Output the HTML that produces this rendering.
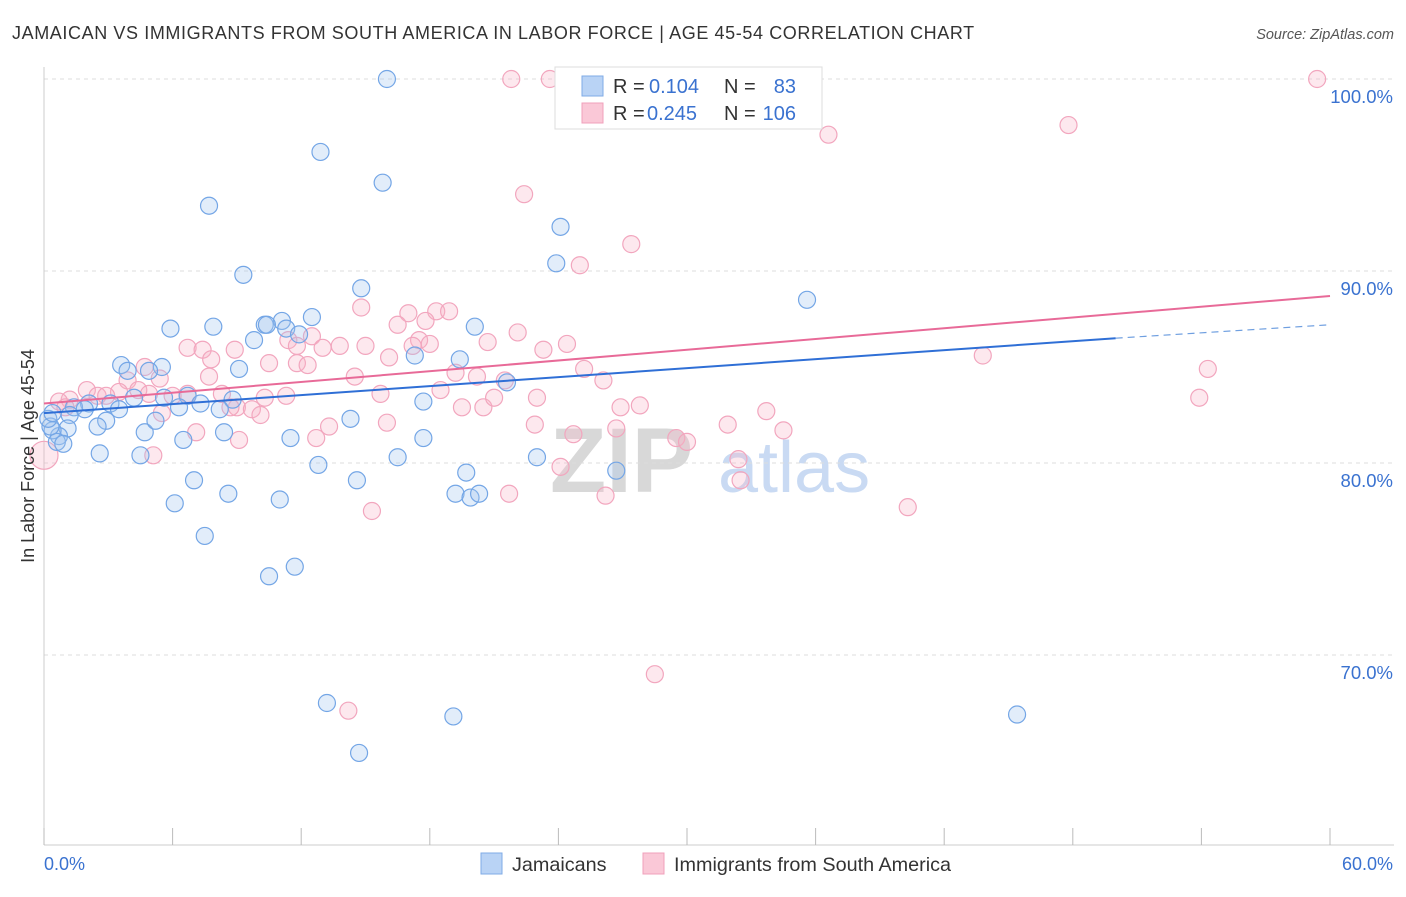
<!DOCTYPE html>
<html><head><meta charset="utf-8"><style>
body{margin:0;background:#fff;font-family:"Liberation Sans",sans-serif;}
svg text{font-family:"Liberation Sans",sans-serif;}
</style></head><body>
<svg id="chart" width="1406" height="892" viewBox="0 0 1406 892" xmlns="http://www.w3.org/2000/svg">
<text x="12" y="39" font-size="18" letter-spacing="0.6" fill="#333">JAMAICAN VS IMMIGRANTS FROM SOUTH AMERICA IN LABOR FORCE | AGE 45-54 CORRELATION CHART</text>
<text x="1394" y="39" font-size="14.5" fill="#555" font-style="italic" text-anchor="end">Source: ZipAtlas.com</text>
<g>
<text x="550" y="492" font-size="92" fill="#d8d8d8" font-family="Liberation Serif" font-weight="bold">ZIP</text>
<text x="718" y="492" font-size="72" fill="#c9daf3">atlas</text>
</g>
<g id="grid"></g>
<g id="axes"></g>
<g id="marks"></g>
<g id="trends"></g>
<g>
<rect x="555" y="67" width="267" height="62" fill="#fff" stroke="#ddd"/>
<rect x="582" y="76" width="21" height="20" fill="#b9d3f5" stroke="#7fabe6"/>
<rect x="582" y="103" width="21" height="20" fill="#fac8d7" stroke="#f0a0bb"/>
<text x="613" y="93" font-size="20" fill="#333">R = </text><text x="649" y="93" font-size="20" fill="#3a72d0">0.104</text>
<text x="724" y="93" font-size="20" fill="#333">N = </text><text x="796" y="93" font-size="20" fill="#3a72d0" text-anchor="end">83</text>
<text x="613" y="120" font-size="20" fill="#333">R = </text><text x="647" y="120" font-size="20" fill="#3a72d0">0.245</text>
<text x="724" y="120" font-size="20" fill="#333">N = </text><text x="796" y="120" font-size="20" fill="#3a72d0" text-anchor="end">106</text>
</g>
<g>
<rect x="481" y="853" width="21" height="21" fill="#b9d3f5" stroke="#7fabe6"/>
<text x="512" y="871" font-size="19.8" fill="#333">Jamaicans</text>
<rect x="643" y="853" width="21" height="21" fill="#fac8d7" stroke="#f0a0bb"/>
<text x="674" y="871" font-size="19.8" fill="#333">Immigrants from South America</text>
</g>
<text transform="translate(34,456) rotate(-90)" font-size="18" fill="#333" text-anchor="middle">In Labor Force | Age 45-54</text>
</svg>
<script>
const yTicks=[100,90,80,70];
const yTickLabels=["100.0%","90.0%","80.0%","70.0%"];
const xTicks=[0,6,12,18,24,30,36,42,48,54,60];
const xEndLabels=["0.0%","60.0%"];
const blueX=[16.0,12.9,15.8,7.7,24.1,9.3,23.9,14.8,35.6,5.9,7.9,12.5,11.1,10.3,11.3,11.9,9.8,10.4,20.1,17.3,19.4,3.6,5.5,3.9,4.9,9.1,4.2,5.6,6.7,7.3,8.8,8.2,6.3,3.1,3.5,2.1,1.4,1.9,1.2,2.9,2.5,1.1,0.7,0.4,0.6,0.9,2.6,4.7,5.2,6.5,8.4,11.5,14.3,17.7,17.7,21.6,4.5,12.8,16.5,23.0,26.7,19.7,7.0,14.6,6.1,8.6,11.0,19.2,19.9,20.3,7.5,11.7,10.5,13.2,19.1,14.7,45.4,0.3,0.2,0.4];
const blueY=[100.0,96.2,94.6,93.4,92.3,89.8,90.4,89.1,88.5,87.0,87.1,87.6,87.4,87.2,87.0,86.7,86.4,87.2,87.1,85.6,85.4,85.1,85.0,84.8,84.8,84.9,83.4,83.4,83.5,83.1,83.3,82.8,82.9,83.1,82.8,83.1,82.9,82.8,82.5,82.2,81.9,81.8,81.4,81.7,81.1,81.0,80.5,81.6,82.2,81.2,81.6,81.3,82.3,83.2,81.3,84.2,80.4,79.9,80.3,80.3,79.6,79.5,79.1,79.1,77.9,78.4,78.1,78.4,78.2,78.4,76.2,74.6,74.1,67.5,66.8,64.9,66.9,81.9,82.3,82.6];
const pinkX=[21.8,23.6,27.2,28.6,35.3,59.4,36.6,47.8,22.4,27.4,25.0,14.8,17.0,18.3,18.9,17.8,16.5,22.1,24.4,23.3,20.7,17.5,17.2,18.0,12.5,11.4,13.8,15.0,16.1,13.0,11.8,6.7,7.4,8.9,7.8,10.5,11.8,12.3,4.7,5.4,3.9,3.5,4.4,2.0,2.5,1.2,0.7,2.9,4.9,6.7,6.0,8.3,11.3,10.3,15.7,18.5,19.2,20.2,21.5,25.2,26.1,7.7,9.0,9.7,10.1,8.7,5.5,7.1,9.1,14.5,19.5,20.5,21.0,23.0,26.9,27.8,16.0,12.7,13.3,22.9,24.7,26.7,29.5,30.0,31.9,33.7,34.5,43.8,54.3,53.9,24.1,32.4,32.5,26.2,21.7,15.3,40.3,28.5,14.2,5.1,1.0,0.0];
const pinkY=[100,100,100,100,100,100,97.1,97.6,94.0,91.4,90.3,88.1,87.8,87.9,87.9,87.4,87.2,86.8,86.2,85.9,86.3,86.4,86.1,86.2,86.6,86.4,86.1,86.1,85.5,86.0,86.1,86.0,85.9,85.9,85.4,85.2,85.2,85.1,85.0,84.4,84.3,83.7,83.8,83.8,83.5,83.3,83.2,83.5,83.6,83.6,83.5,83.6,83.5,83.4,83.6,83.8,84.7,84.5,84.3,84.9,84.3,84.5,82.9,82.8,82.5,82.9,82.6,81.6,81.2,84.5,82.9,82.9,83.4,83.4,82.9,83.0,82.1,81.3,81.9,82.0,81.5,81.8,81.3,81.1,82.0,82.7,81.7,85.6,84.9,83.4,79.8,80.2,79.1,78.3,78.4,77.5,77.7,69.0,67.1,80.4,82.9,80.4];
const blueTrend=[82.6,86.5,87.2];
const pinkTrend=[83.1,88.7];
const blueSolidEnd=50;

const NS="http://www.w3.org/2000/svg";
const X=v=>44+v/60*1286;
const Y=v=>79+(100-v)*19.2;
function mk(tag,attrs,parent){const e=document.createElementNS(NS,tag);for(const k in attrs)e.setAttribute(k,attrs[k]);parent.appendChild(e);return e;}
const grid=document.getElementById('grid'),axes=document.getElementById('axes'),marks=document.getElementById('marks'),trends=document.getElementById('trends');
yTicks.forEach((t,i)=>{
  const l=mk('line',{x1:44,x2:1394,y1:Y(t),y2:Y(t),stroke:'#ddd','stroke-dasharray':'4,4'},grid);
  
  
  const tx=mk('text',{x:1393,y:Y(t)+24,'font-size':18.5,fill:'#3a72d0','text-anchor':'end'},axes);
  tx.textContent=yTickLabels[i];
  
  
});
const ax=mk('line',{x1:44,x2:1394,y1:845,y2:845,stroke:'#ccc'},axes);


const ay=mk('line',{x1:44,x2:44,y1:67,y2:845,stroke:'#ccc'},axes);


xTicks.forEach(t=>{
  const l=mk('line',{x1:X(t),x2:X(t),y1:828,y2:845,stroke:'#bbb'},axes);
  
  
});
const xl0=mk('text',{x:44,y:870,'font-size':18,fill:'#3a72d0'},axes);xl0.textContent=xEndLabels[0];


const xl1=mk('text',{x:1393,y:870,'font-size':18,fill:'#3a72d0','text-anchor':'end'},axes);xl1.textContent=xEndLabels[1];


pinkX.forEach((v,i)=>{
  const c=mk('circle',{cx:X(v),cy:Y(pinkY[i]),r:(v===0?14:8.5),fill:'rgba(248,180,200,0.3)',stroke:'#f2a6be','stroke-width':1.2},marks);
  
  
});
blueX.forEach((v,i)=>{
  const c=mk('circle',{cx:X(v),cy:Y(blueY[i]),r:8.5,fill:'rgba(160,196,240,0.3)',stroke:'#74a6e6','stroke-width':1.2},marks);
  
  
});
const bt=mk('line',{x1:X(0),y1:Y(blueTrend[0]),x2:X(blueSolidEnd),y2:Y(blueTrend[1]),stroke:'#2f6fd6','stroke-width':2},trends);


const bd=mk('line',{x1:X(blueSolidEnd),y1:Y(blueTrend[1]),x2:X(60),y2:Y(blueTrend[2]),stroke:'#6f9fe0','stroke-width':1.2,'stroke-dasharray':'7,5'},trends);


const pt=mk('line',{x1:X(0),y1:Y(pinkTrend[0]),x2:X(60),y2:Y(pinkTrend[1]),stroke:'#e86a98','stroke-width':2},trends);


</script>
</body></html>
